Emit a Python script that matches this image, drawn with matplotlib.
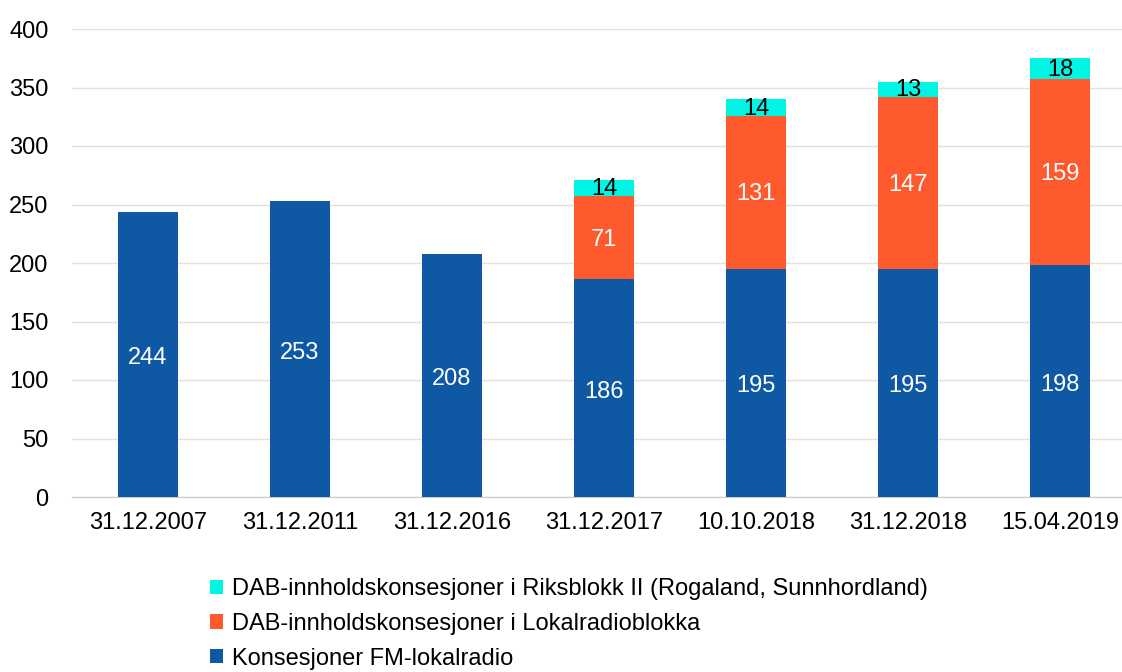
import matplotlib
matplotlib.use("Agg")
import matplotlib.pyplot as plt
import numpy as np

categories = ["31.12.2007", "31.12.2011", "31.12.2016", "31.12.2017", "10.10.2018", "31.12.2018", "15.04.2019"]
fm = [244, 253, 208, 186, 195, 195, 198]
lokal = [0, 0, 0, 71, 131, 147, 159]
riks = [0, 0, 0, 14, 14, 13, 18]
series_names = ["Konsesjoner FM-lokalradio",
                "DAB-innholdskonsesjoner i Lokalradioblokka",
                "DAB-innholdskonsesjoner i Riksblokk II (Rogaland, Sunnhordland)"]

plt.rcParams['font.family'] = ['Liberation Sans', 'DejaVu Sans']

c_blue = "#0F59A4"
c_orange = "#FF5A2E"
c_cyan = "#00F5E4"

fig = plt.figure(figsize=(11.22, 6.72), dpi=100)
ax = fig.add_axes([72/1122, 1 - 497/672, (1136-72)/1122, (497-29)/672])

x = np.arange(len(categories))
w = 0.395
fm_a = np.array(fm); lo_a = np.array(lokal); ri_a = np.array(riks)
b1 = ax.bar(x, fm_a, w, color=c_blue, label=series_names[0], zorder=3)
b2 = ax.bar(x, lo_a, w, bottom=fm_a, color=c_orange, label=series_names[1], zorder=3)
b3 = ax.bar(x, ri_a, w, bottom=fm_a + lo_a, color=c_cyan, label=series_names[2], zorder=3)

fs = 17
for i in range(len(x)):
    ax.text(x[i], fm_a[i] / 2 - 3, str(fm[i]), ha="center", va="center", color="white", fontsize=fs, zorder=4)
    if lokal[i]:
        ax.text(x[i], fm_a[i] + lo_a[i] / 2 - 1.5, str(lokal[i]), ha="center", va="center", color="white", fontsize=fs, zorder=4)
    if riks[i]:
        ax.text(x[i], fm_a[i] + lo_a[i] + ri_a[i] / 2 - 1, str(riks[i]), ha="center", va="center", color="black", fontsize=fs, zorder=4)

ax.set_xlim(-0.5, len(x) - 0.5)
ax.set_ylim(0, 400)
ax.set_yticks(range(0, 401, 50))
ax.set_xticks(x)
ax.set_xticklabels(categories)
ax.tick_params(axis="both", length=0, labelsize=fs)
ax.tick_params(axis="x", pad=11)
ax.tick_params(axis="y", pad=17)
ax.yaxis.grid(True, color="#E5DFD8", linewidth=1, zorder=0)
for s in ["top", "right", "left"]:
    ax.spines[s].set_visible(False)
ax.spines["bottom"].set_color("#C8C8C8")

handles = [b3, b2, b1]
leg = fig.legend(handles, [series_names[2], series_names[1], series_names[0]],
                 loc="upper left", bbox_to_anchor=(210/1122, 1 - 578/672),
                 frameon=False, fontsize=fs, handlelength=0.55, handleheight=0.55,
                 handletextpad=0.4, labelspacing=0.54, borderpad=0, borderaxespad=0)

fig.savefig("out.png", dpi=100)
